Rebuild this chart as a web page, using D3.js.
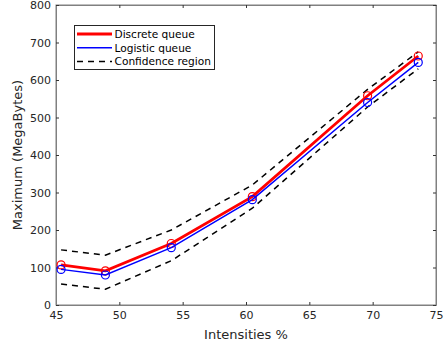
<!DOCTYPE html>
<html>
<head>
<meta charset="utf-8">
<script src="https://cdn.jsdelivr.net/npm/d3@7"></script>
<style>
  html, body { margin: 0; padding: 0; background: #fff; }
  svg { display: block; font-family: "DejaVu Sans", sans-serif; }
</style>
</head>
<body>
<svg id="chart" width="445" height="344"></svg>
<script>
// Measured intensities (%) and maximum queue size (MB)
const intensities = [45.4, 48.9, 54.1, 60.5, 69.6, 73.6];
const discreteQueue = [107, 91, 164, 289, 558, 664];
const logisticQueue = [95, 80, 153, 281, 540, 647];
const confUpper = [147, 133, 200, 320, 575, 675];
const confLower = [56, 42, 118, 258, 528, 630];
const xTicks = [45, 50, 55, 60, 65, 70, 75];
const yTicks = [0, 100, 200, 300, 400, 500, 600, 700, 800];
const legendLabels = ["Discrete queue", "Logistic queue", "Confidence region"];

const svg = d3.select("#chart");
const margin = { left: 56, right: 9, top: 5, bottom: 39 };
const W = 445, H = 344;

const x = d3.scaleLinear().domain([45, 75]).range([margin.left, W - margin.right]);
const y = d3.scaleLinear().domain([0, 800]).range([H - margin.bottom, margin.top]);

const axisColor = "#808080";
const textColor = "#262626";

// plot box
svg.append("rect")
  .attr("x", x(45)).attr("y", y(800))
  .attr("width", x(75) - x(45)).attr("height", y(0) - y(800))
  .attr("fill", "none").attr("stroke", axisColor).attr("stroke-width", 1);

// axes with ticks pointing inward
const xAxis = svg.append("g").attr("transform", `translate(0,${y(0)})`)
  .call(d3.axisBottom(x).tickValues(xTicks).tickSizeInner(-3).tickSizeOuter(0).tickPadding(6));
const xAxisTop = svg.append("g").attr("transform", `translate(0,${y(800)})`)
  .call(d3.axisTop(x).tickValues(xTicks).tickSizeInner(-3).tickSizeOuter(0).tickFormat(""));
const yAxis = svg.append("g").attr("transform", `translate(${x(45)},0)`)
  .call(d3.axisLeft(y).tickValues(yTicks).tickSizeInner(-3).tickSizeOuter(0).tickPadding(5));
const yAxisRight = svg.append("g").attr("transform", `translate(${x(75)},0)`)
  .call(d3.axisRight(y).tickValues(yTicks).tickSizeInner(-3).tickSizeOuter(0).tickFormat(""));

[xAxis, xAxisTop, yAxis, yAxisRight].forEach(g => {
  g.select(".domain").attr("stroke", axisColor);
  g.selectAll(".tick line").attr("stroke", "#333");
  g.selectAll(".tick text").attr("fill", textColor)
    .attr("font-size", 11).attr("font-family", "DejaVu Sans, sans-serif");
});

// axis titles
svg.append("text")
  .attr("x", (x(45) + x(75)) / 2).attr("y", 339)
  .attr("text-anchor", "middle").attr("font-size", 13).attr("fill", textColor)
  .text("Intensities %");
svg.append("text")
  .attr("transform", `translate(22,${(y(0) + y(800)) / 2}) rotate(-90)`)
  .attr("text-anchor", "middle").attr("font-size", 13).attr("fill", textColor)
  .text("Maximum (MegaBytes)");

const line = d3.line().x((d, i) => x(intensities[i])).y(d => y(d));

// confidence region bounds
[confUpper, confLower].forEach(arr => {
  svg.append("path").datum(arr).attr("d", line)
    .attr("fill", "none").attr("stroke", "#000").attr("stroke-width", 1.5)
    .attr("stroke-dasharray", "6,5");
});

// series lines and markers
const series = [
  { values: discreteQueue, color: "#ff0000", width: 2.8 },
  { values: logisticQueue, color: "#0000ff", width: 1.5 }
];
series.forEach(s => {
  svg.append("path").datum(s.values).attr("d", line)
    .attr("fill", "none").attr("stroke", s.color).attr("stroke-width", s.width);
  svg.append("g").selectAll("circle").data(s.values).join("circle")
    .attr("cx", (d, i) => x(intensities[i])).attr("cy", d => y(d))
    .attr("r", 4).attr("fill", "none").attr("stroke", s.color).attr("stroke-width", 1.2);
});

// legend
const lg = svg.append("g");
lg.append("rect").attr("x", 74.5).attr("y", 25.5).attr("width", 140).attr("height", 44)
  .attr("fill", "#fff").attr("stroke", "#262626").attr("stroke-width", 1);
const legendStyles = [
  { color: "#ff0000", width: 2.8, dash: null },
  { color: "#0000ff", width: 1.5, dash: null },
  { color: "#000", width: 1.5, dash: "6,5" }
];
legendLabels.forEach((label, i) => {
  const yy = 34 + i * 13.8;
  const st = legendStyles[i];
  lg.append("line").attr("x1", 77).attr("x2", 112).attr("y1", yy).attr("y2", yy)
    .attr("stroke", st.color).attr("stroke-width", st.width)
    .attr("stroke-dasharray", st.dash);
  lg.append("text").attr("x", 114.5).attr("y", yy + 3.8)
    .attr("font-size", 10.6).attr("fill", "#000").text(label);
});
</script>
</body>
</html>
